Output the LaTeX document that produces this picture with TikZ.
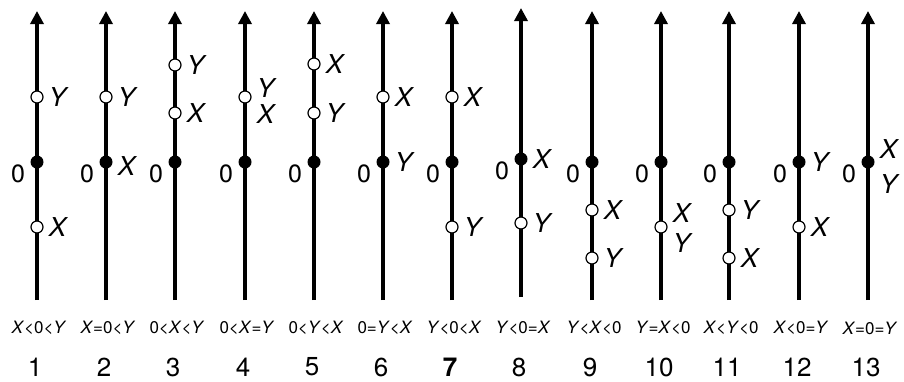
\documentclass[tikz,border=0pt]{standalone}
\usepackage{fontspec}
\setmainfont{TeX Gyre Heros}
\usetikzlibrary{positioning,arrows.meta}
\newcommand\vX{\textit{X}}
\newcommand\vY{\textit{Y}}

\begin{document}
\begin{tikzpicture}[
  x=1pt, y=-1pt,
  axis/.style={line width=3.5pt, -{Triangle[width=13pt,length=13pt]}},
  open/.style={circle, draw, line width=1.2pt, fill=white, minimum size=12pt, inner sep=0pt},
  zero/.style={circle, fill=black, minimum size=13pt, inner sep=0pt},
  var/.style={font=\fontsize{26}{30}\selectfont\itshape, inner sep=0pt},
  zlbl/.style={font=\fontsize{25}{30}\selectfont, inner sep=0pt},
  cond/.style={font=\fontsize{17}{20}\selectfont, inner sep=0pt},
  num/.style={font=\fontsize{26}{30}\selectfont, inner sep=0pt}
]
  \useasboundingbox (0,0) rectangle (904,381);

  % axes with origin, condition and number
  \foreach \n/\x/\d/\c/\t in {
      1/37/0/{\vX<0<\vY}/1,
      2/106/0/{\vX=0<\vY}/2,
      3/175/0/{0<\vX<\vY}/3,
      4/245/0/{0<\vX=\vY}/4,
      5/314/0/{0<\vY<\vX}/5,
      6/383/0/{0=\vY<\vX}/6,
      7/452/0/{\vY<0<\vX}/{\textbf{7}},
      8/521/-3/{\vY<0=\vX}/8,
      9/592/0/{\vY<\vX<0}/9,
      10/661/0/{\vY=\vX<0}/10,
      11/729/0/{\vX<\vY<0}/11,
      12/799/0/{\vX<0=\vY}/12,
      13/868/0/{\vX=0=\vY}/13} {
    \coordinate (bot\n) at (\x,{300+\d});
    \coordinate (top\n) at (\x,{11+\d});
    \draw[axis] (bot\n) -- (top\n);
    \node[zero] (o\n) at (\x,{162+\d}) {};
    \node[zlbl, left=5pt of o\n, yshift=-12pt] (z\n) {0};
    \node[cond] (c\n) at (\x+2,328) {\c};
    \node[num] (n\n) at (\x-2,367) {\t};
  }

  % points on the axes
  \node[open] (y1) at (37,97) {};
  \node[open] (x1) at (37,227) {};
  \node[open] (y2) at (106,97) {};
  \node[open] (y3) at (175,65) {};
  \node[open] (x3) at (175,113) {};
  \node[open] (p4) at (245,97) {};
  \node[open] (x5) at (314,64) {};
  \node[open] (y5) at (314,113) {};
  \node[open] (x6) at (383,97) {};
  \node[open] (x7) at (452,97) {};
  \node[open] (y7) at (452,227) {};
  \node[open] (y8) at (521,223) {};
  \node[open] (x9) at (592,210) {};
  \node[open] (y9) at (592,258) {};
  \node[open] (p10) at (661,227) {};
  \node[open] (y11) at (729,210) {};
  \node[open] (x11) at (729,258) {};
  \node[open] (x12) at (799,227) {};

  % labels
  \node[var, right=5pt of y1] (ly1) {Y};
  \node[var, right=5pt of x1] (lx1) {X};
  \node[var, right=5pt of y2] (ly2) {Y};
  \node[var, right=5pt of o2, yshift=-4pt] (lx2) {X};
  \node[var, right=5pt of y3] (ly3) {Y};
  \node[var, right=5pt of x3] (lx3) {X};
  \node[var, right=5pt of p4, yshift=9pt] (ly4) {Y};
  \node[var, right=5pt of p4, yshift=-17pt] (lx4) {X};
  \node[var, right=5pt of x5] (lx5) {X};
  \node[var, right=5pt of y5] (ly5) {Y};
  \node[var, right=5pt of x6] (lx6) {X};
  \node[var, right=5pt of o6] (ly6) {Y};
  \node[var, right=5pt of x7] (lx7) {X};
  \node[var, right=5pt of y7] (ly7) {Y};
  \node[var, right=5pt of o8] (lx8) {X};
  \node[var, right=5pt of y8] (ly8) {Y};
  \node[var, right=5pt of x9] (lx9) {X};
  \node[var, right=5pt of y9] (ly9) {Y};
  \node[var, right=5pt of p10, yshift=14pt] (lx10) {X};
  \node[var, right=5pt of p10, yshift=-16pt] (ly10) {Y};
  \node[var, right=5pt of y11] (ly11) {Y};
  \node[var, right=5pt of x11] (lx11) {X};
  \node[var, right=5pt of x12] (lx12) {X};
  \node[var, right=5pt of o12] (ly12) {Y};
  \node[var, right=5pt of o13, yshift=13pt] (lx13) {X};
  \node[var, right=5pt of o13, yshift=-22pt] (ly13) {Y};
\end{tikzpicture}
\end{document}
